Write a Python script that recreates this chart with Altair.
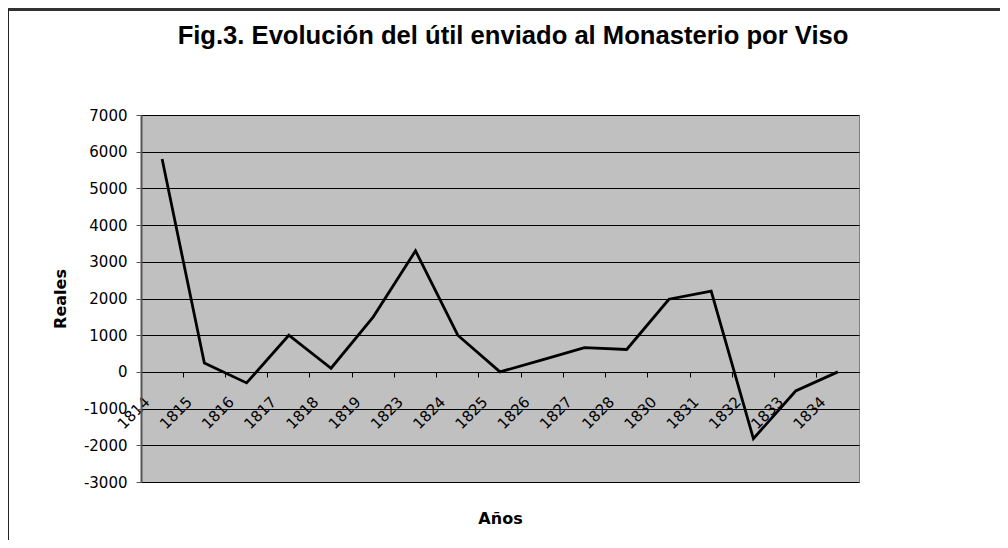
import altair as alt
import pandas as pd

years = ["1814", "1815", "1816", "1817", "1818", "1819", "1823", "1824", "1825",
         "1826", "1827", "1828", "1830", "1831", "1832", "1833", "1834"]
reales = [5800, 240, -300, 1000, 100, 1500, 3300, 1000, 0,
          330, 660, 610, 1980, 2200, -1820, -520, 0]
y_ticks = [-3000, -2000, -1000, 0, 1000, 2000, 3000, 4000, 5000, 6000, 7000]

df = pd.DataFrame({"Año": years, "Reales": reales})

W, H = 718, 367
PAD_L, PAD_T = 133, 107
FONT = "DejaVu Sans"

line = alt.Chart(df).mark_line(color="black", strokeWidth=2.8, strokeJoin="miter").encode(
    x=alt.X("Año:N", sort=None, bandPosition=0.5,
            scale=alt.Scale(type="band", paddingInner=0, paddingOuter=0),
            axis=alt.Axis(title="Años", bandPosition=0, offset=-110,
                          labelAngle=-45, labelAlign="right", labelBaseline="middle",
                          labelPadding=22, labelOffset=-15, labelFont=FONT, labelFontSize=15,
                          labelColor="black", tickColor="black", tickSize=5,
                          domainColor="black", domainWidth=1, grid=False,
                          titleFont=FONT, titleFontSize=16, titleFontWeight="bold",
                          titleColor="black", titleBaseline="alphabetic", titleY=151)),
    y=alt.Y("Reales:Q",
            scale=alt.Scale(domain=[-3000, 7000], nice=False, zero=False),
            axis=alt.Axis(title="Reales", values=y_ticks, labelExpr="'' + datum.value",
                          grid=True, gridColor="black", gridWidth=1, gridOpacity=1,
                          domainColor="#555555", domainWidth=2, tickColor="#555555",
                          tickSize=5, labelPadding=9, labelFont=FONT, labelFontSize=15,
                          labelColor="black", titleFont=FONT, titleFontSize=16,
                          titleFontWeight="bold", titleColor="black",
                          titleAngle=-90, titleBaseline="alphabetic",
                          titleX=-76, titleY=H / 2, titleAlign="center")),
)

frame_top = alt.Chart(df).mark_rule(color="#333333", strokeWidth=2).encode(
    x=alt.value(-PAD_L), x2=alt.value(1000), y=alt.value(-105.5)
)
frame_left = alt.Chart(df).mark_rule(color="#222222", strokeWidth=1).encode(
    x=alt.value(-PAD_L + 0.5), y=alt.value(-106), y2=alt.value(600)
)

chart = alt.layer(line, frame_top, frame_left).properties(
    width=W, height=H,
    title=alt.TitleParams("Fig.3. Evolución del útil enviado al Monasterio por Viso",
                          font="Liberation Sans", fontSize=25.6, fontWeight="bold", color="black",
                          anchor="middle", frame="group", baseline="alphabetic",
                          offset=-61.2, dx=13),
    autosize=alt.AutoSizeParams(type="none"),
    padding={"left": PAD_L, "top": PAD_T, "right": 992 - PAD_L - W, "bottom": 532 - PAD_T - H},
    background="white",
).configure_view(fill="#C0C0C0", stroke="#808080", strokeWidth=1)

chart.save("out.html", embed_options={"renderer": "svg", "actions": False})
